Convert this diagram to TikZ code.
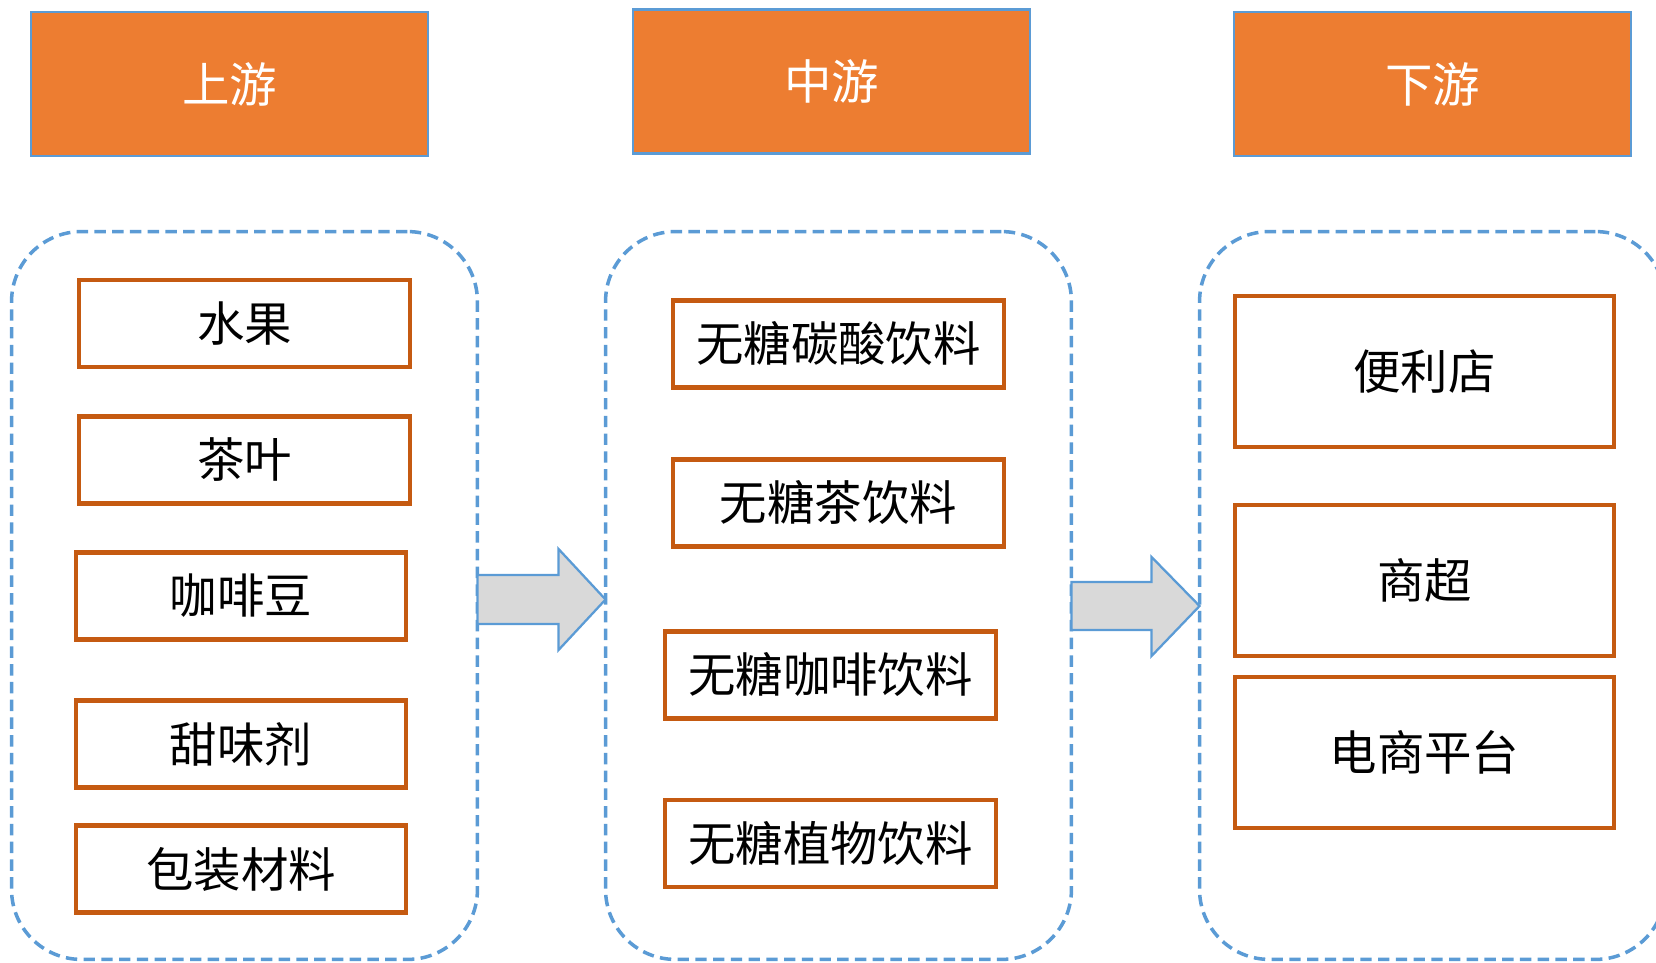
\documentclass[tikz,border=0pt]{standalone}
\usepackage{fontspec}
\newfontfamily\cjk{Noto Sans CJK SC}
\usetikzlibrary{calc}
\definecolor{headorange}{HTML}{ED7D31}
\definecolor{lineblue}{HTML}{5B9BD5}
\definecolor{itemline}{HTML}{C55A11}
\definecolor{arrowgray}{HTML}{D9D9D9}
\begin{document}
\begin{tikzpicture}[x=0.02cm,y=-0.02cm,
    head/.style={draw=lineblue,line width=1.3pt,fill=headorange,text=white,
      minimum width=7.94cm,minimum height=2.88cm,font=\cjk\fontsize{27}{32}\selectfont},
    group/.style={draw=lineblue,line width=2pt,dash pattern=on 6.5pt off 3.6pt,
      rounded corners=1.4cm,minimum width=9.32cm,minimum height=14.56cm,outer sep=0pt},
    item/.style={draw=itemline,line width=2.3pt,fill=white,
      minimum width=6.62cm,minimum height=1.74cm,font=\cjk\fontsize{27}{32}\selectfont},
    shop/.style={item,minimum width=7.58cm,minimum height=3.02cm},
    flow/.style={draw=lineblue,line width=1.3pt,fill=arrowgray}]
  \useasboundingbox (0,0) rectangle (1656,963);
  \draw
    (229.5,84) node[head] (up){上游}
    (831.5,81.5) node[head] (mid){中游}
    (1432.5,84) node[head] (down){下游};
  \draw
    (244.5,595.5) node[group] (upbox){}
    (838.5,595.5) node[group] (midbox){}
    (1432.5,595.5) node[group] (downbox){};
  \draw
    (244.5,323.5) node[item] (fruit){水果}
    (244.5,460) node[item] (tea){茶叶}
    (241,596) node[item] (bean){咖啡豆}
    (241,744) node[item] (sweet){甜味剂}
    (241,869) node[item] (pack){包装材料};
  \draw
    (838.5,344) node[item] (soda){无糖碳酸饮料}
    (838.5,503) node[item] (teadrink){无糖茶饮料}
    (830.5,675) node[item] (coffeedrink){无糖咖啡饮料}
    (830.5,843.5) node[item] (plantdrink){无糖植物饮料};
  \draw
    (1424.5,371.5) node[shop] (store){便利店}
    (1424.5,580.5) node[shop] (market){商超}
    (1424.5,752.5) node[shop] (online){电商平台};
  \begin{scope}[line join=miter]
    \draw[flow] (upbox.east |- 0,575) -- ($(midbox.west |- 0,575)+(-47,0)$)
      -- ($(midbox.west |- 0,549)+(-47,0)$) -- (midbox.west |- 0,599.5)
      -- ($(midbox.west |- 0,650)+(-47,0)$) -- ($(midbox.west |- 0,624)+(-47,0)$)
      -- (upbox.east |- 0,624) -- cycle;
    \draw[flow] (midbox.east |- 0,582) -- ($(downbox.west |- 0,582)+(-48,0)$)
      -- ($(downbox.west |- 0,557)+(-48,0)$) -- (downbox.west |- 0,606)
      -- ($(downbox.west |- 0,656)+(-48,0)$) -- ($(downbox.west |- 0,630)+(-48,0)$)
      -- (midbox.east |- 0,630) -- cycle;
  \end{scope}
\end{tikzpicture}
\end{document}
